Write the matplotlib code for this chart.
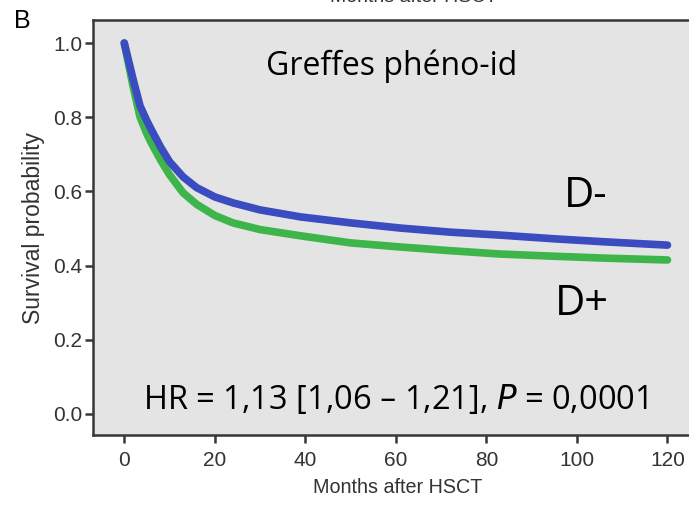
import matplotlib
matplotlib.use('Agg')
import matplotlib.pyplot as plt

# Kaplan-Meier estimates, read per month after transplant
months = [0, 1, 2, 3.5, 5, 6, 8, 10, 13, 16, 20, 24, 30, 39, 50, 61, 72, 83, 95, 106, 120]
surv_d_minus = [1.0, 0.95, 0.90, 0.83, 0.79, 0.766, 0.72, 0.68, 0.639, 0.61, 0.585, 0.569,
                0.55, 0.531, 0.515, 0.501, 0.49, 0.482, 0.472, 0.464, 0.455]
surv_d_plus = [1.0, 0.94, 0.88, 0.80, 0.755, 0.73, 0.685, 0.645, 0.596, 0.565, 0.535, 0.515,
               0.497, 0.48, 0.461, 0.450, 0.44, 0.431, 0.425, 0.420, 0.415]

x_ticks = [0, 20, 40, 60, 80, 100, 120]
y_ticks = [0.0, 0.2, 0.4, 0.6, 0.8, 1.0]

BLUE = '#3a4cbf'
GREEN = '#3db54a'
AXIS_COL = '#363636'
LABEL_COL = '#333333'
ANNOT_FONT = ['Open Sans', 'DejaVu Sans']

fig = plt.figure(figsize=(6.89, 5.08), dpi=100)
ax = fig.add_axes([0.135, 0.1437, 0.885, 0.8169])
ax.set_facecolor('#e4e4e4')

ax.plot(months, surv_d_plus, color=GREEN, lw=5.5, solid_capstyle='round')
ax.plot(months, surv_d_minus, color=BLUE, lw=5.5, solid_capstyle='round')

ax.set_xlim(-6.9, 127.8)
ax.set_ylim(-0.057, 1.062)
ax.set_xticks(x_ticks)
ax.set_yticks(y_ticks)
ax.set_yticklabels([f'{v:.1f}' for v in y_ticks])

for side in ['left', 'bottom', 'top']:
    ax.spines[side].set_color(AXIS_COL)
    ax.spines[side].set_linewidth(1.8)
ax.spines['right'].set_visible(False)
ax.tick_params(direction='out', length=5.5, width=1.8, color=AXIS_COL,
               labelsize=15, labelcolor=LABEL_COL)
ax.tick_params(axis='x', pad=6)
ax.tick_params(axis='y', pad=2)
for lbl in ax.get_xticklabels() + ax.get_yticklabels():
    lbl.set_family('Liberation Sans')

ax.set_xlabel('Months after HSCT', family='Liberation Sans', fontsize=14.2,
              color=LABEL_COL, labelpad=6)
ax.set_ylabel('Survival probability', family='Liberation Sans', fontsize=16.5,
              color=LABEL_COL, labelpad=6)

# annotations
ax.text(0.490, 0.867, 'Greffes phéno-id', transform=ax.transAxes, ha='center',
        va='baseline', fontsize=23, family=ANNOT_FONT)
ax.text(0.808, 0.549, 'D-', transform=ax.transAxes, ha='center', va='baseline',
        fontsize=30, family=ANNOT_FONT)
ax.text(0.802, 0.289, 'D+', transform=ax.transAxes, ha='center', va='baseline',
        fontsize=30, family=ANNOT_FONT)
ax.text(0.082, 0.063, 'HR = 1,13 [1,06 – 1,21], $\\it{P}$ = 0,0001',
        transform=ax.transAxes, ha='left', va='baseline', fontsize=23.5,
        family=ANNOT_FONT)

fig.text(0.021, 1 - 28 / 508, 'B', fontsize=18, family='Liberation Sans', va='baseline')
fig.text(0.6, 1 - 6 / 508, 'Months after HSCT', fontsize=14, family='Liberation Sans',
         color=LABEL_COL, ha='center', va='bottom')

fig.savefig('out.png', dpi=100)
